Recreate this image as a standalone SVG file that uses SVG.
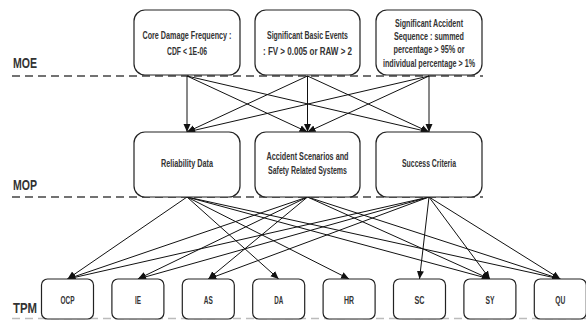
<svg xmlns="http://www.w3.org/2000/svg" width="586" height="320" viewBox="0 0 586 320">
<style>
.box{fill:#fff;stroke:#222;stroke-width:1.2}
.t{font-family:"Liberation Sans",Arial,sans-serif;font-size:10.5px;font-weight:bold;fill:#333;text-anchor:middle}
.b{font-size:11px}
.lvl{font-family:"Liberation Sans",Arial,sans-serif;font-size:14px;font-weight:bold;fill:#333}
.dash{stroke:#444;stroke-width:1.5;stroke-dasharray:8,5;fill:none}
.c{stroke:#111;stroke-width:1;fill:none;marker-end:url(#ah)}
</style>
<defs>
<marker id="ah" markerUnits="userSpaceOnUse" markerWidth="9" markerHeight="9" refX="8" refY="4.5" orient="auto">
<path d="M0,1 L8,4.5 L0,8 Z" fill="#111"/>
</marker>
</defs>
<rect width="586" height="320" fill="#fff"/>
<g id="levels">
<text class="lvl" x="13" y="68" textLength="24" lengthAdjust="spacingAndGlyphs">MOE</text>
<text class="lvl" x="13" y="190" textLength="24" lengthAdjust="spacingAndGlyphs">MOP</text>
<text class="lvl" x="13" y="313" textLength="24" lengthAdjust="spacingAndGlyphs">TPM</text>
<line class="dash" x1="12" y1="76" x2="483" y2="76"/>
<line class="dash" x1="12" y1="197" x2="483" y2="197"/>
<line class="dash" x1="12" y1="318.5" x2="586" y2="318.5" style="stroke:#bbb"/>
</g>
<g id="connectors">
<line class="c" x1="187" y1="76" x2="187" y2="132"/>
<line class="c" x1="187" y1="76" x2="307.5" y2="132"/>
<line class="c" x1="187" y1="76" x2="429" y2="132"/>
<line class="c" x1="307.5" y1="76" x2="187" y2="132"/>
<line class="c" x1="307.5" y1="76" x2="307.5" y2="132"/>
<line class="c" x1="307.5" y1="76" x2="429" y2="132"/>
<line class="c" x1="429" y1="76" x2="187" y2="132"/>
<line class="c" x1="429" y1="76" x2="307.5" y2="132"/>
<line class="c" x1="429" y1="76" x2="429" y2="132"/>
<line class="c" x1="187" y1="197" x2="67.5" y2="279"/>
<line class="c" x1="187" y1="197" x2="278.7" y2="279"/>
<line class="c" x1="187" y1="197" x2="349.1" y2="279"/>
<line class="c" x1="187" y1="197" x2="489.9" y2="279"/>
<line class="c" x1="187" y1="197" x2="560.3" y2="279"/>
<line class="c" x1="307.5" y1="197" x2="67.5" y2="279"/>
<line class="c" x1="307.5" y1="197" x2="137.9" y2="279"/>
<line class="c" x1="307.5" y1="197" x2="208.3" y2="279"/>
<line class="c" x1="307.5" y1="197" x2="489.9" y2="279"/>
<line class="c" x1="307.5" y1="197" x2="560.3" y2="279"/>
<line class="c" x1="429" y1="197" x2="67.5" y2="279"/>
<line class="c" x1="429" y1="197" x2="137.9" y2="279"/>
<line class="c" x1="429" y1="197" x2="208.3" y2="279"/>
<line class="c" x1="429" y1="197" x2="419.5" y2="279"/>
<line class="c" x1="429" y1="197" x2="489.9" y2="279"/>
<line class="c" x1="429" y1="197" x2="560.3" y2="279"/>
</g>
<g id="moe-cdf">
<rect class="box" x="134" y="10" width="106" height="65" rx="11"/>
<text class="t" x="187" y="39" textLength="89" lengthAdjust="spacingAndGlyphs">Core Damage Frequency :</text>
<text class="t" x="187" y="55" textLength="40" lengthAdjust="spacingAndGlyphs">CDF &lt; 1E-06</text>
</g>
<g id="moe-sbe">
<rect class="box" x="255" y="10" width="105" height="65" rx="11"/>
<text class="t" x="307.5" y="39" textLength="81" lengthAdjust="spacingAndGlyphs">Significant Basic Events</text>
<text class="t" x="307.5" y="55" textLength="89" lengthAdjust="spacingAndGlyphs">: FV &gt; 0.005 or RAW &gt; 2</text>
</g>
<g id="moe-sas">
<rect class="box" x="376" y="10" width="106" height="65" rx="11"/>
<text class="t" x="429" y="27" textLength="68" lengthAdjust="spacingAndGlyphs">Significant Accident</text>
<text class="t" x="429" y="40" textLength="70" lengthAdjust="spacingAndGlyphs">Sequence : summed</text>
<text class="t" x="429" y="53" textLength="71" lengthAdjust="spacingAndGlyphs">percentage &gt; 95% or</text>
<text class="t" x="429" y="67" textLength="92" lengthAdjust="spacingAndGlyphs">individual percentage &gt; 1%</text>
</g>
<g id="mop-rd">
<rect class="box" x="134" y="132" width="106" height="65" rx="11"/>
<text class="t" x="187" y="167" textLength="52" lengthAdjust="spacingAndGlyphs">Reliability Data</text>
</g>
<g id="mop-as">
<rect class="box" x="255" y="132" width="105" height="65" rx="11"/>
<text class="t" x="307.5" y="160" textLength="82" lengthAdjust="spacingAndGlyphs">Accident Scenarios  and</text>
<text class="t" x="307.5" y="174" textLength="79" lengthAdjust="spacingAndGlyphs">Safety Related Systems</text>
</g>
<g id="mop-sc">
<rect class="box" x="376" y="132" width="106" height="65" rx="11"/>
<text class="t" x="429" y="167" textLength="54" lengthAdjust="spacingAndGlyphs">Success Criteria</text>
</g>
<g id="tpm-ocp"><rect class="box" x="41.5" y="279" width="52" height="40" rx="6"/><text class="t b" x="67.5" y="304" textLength="14" lengthAdjust="spacingAndGlyphs">OCP</text></g>
<g id="tpm-ie"><rect class="box" x="111.9" y="279" width="52" height="40" rx="6"/><text class="t b" x="137.9" y="304" textLength="6" lengthAdjust="spacingAndGlyphs">IE</text></g>
<g id="tpm-as"><rect class="box" x="182.3" y="279" width="52" height="40" rx="6"/><text class="t b" x="208.3" y="304" textLength="9" lengthAdjust="spacingAndGlyphs">AS</text></g>
<g id="tpm-da"><rect class="box" x="252.7" y="279" width="52" height="40" rx="6"/><text class="t b" x="278.7" y="304" textLength="9" lengthAdjust="spacingAndGlyphs">DA</text></g>
<g id="tpm-hr"><rect class="box" x="323.1" y="279" width="52" height="40" rx="6"/><text class="t b" x="349.1" y="304" textLength="10" lengthAdjust="spacingAndGlyphs">HR</text></g>
<g id="tpm-sc"><rect class="box" x="393.5" y="279" width="52" height="40" rx="6"/><text class="t b" x="419.5" y="304" textLength="10" lengthAdjust="spacingAndGlyphs">SC</text></g>
<g id="tpm-sy"><rect class="box" x="463.9" y="279" width="52" height="40" rx="6"/><text class="t b" x="489.9" y="304" textLength="9" lengthAdjust="spacingAndGlyphs">SY</text></g>
<g id="tpm-qu"><rect class="box" x="534.3" y="279" width="52" height="40" rx="6"/><text class="t b" x="560.3" y="304" textLength="10" lengthAdjust="spacingAndGlyphs">QU</text></g>
</svg>
